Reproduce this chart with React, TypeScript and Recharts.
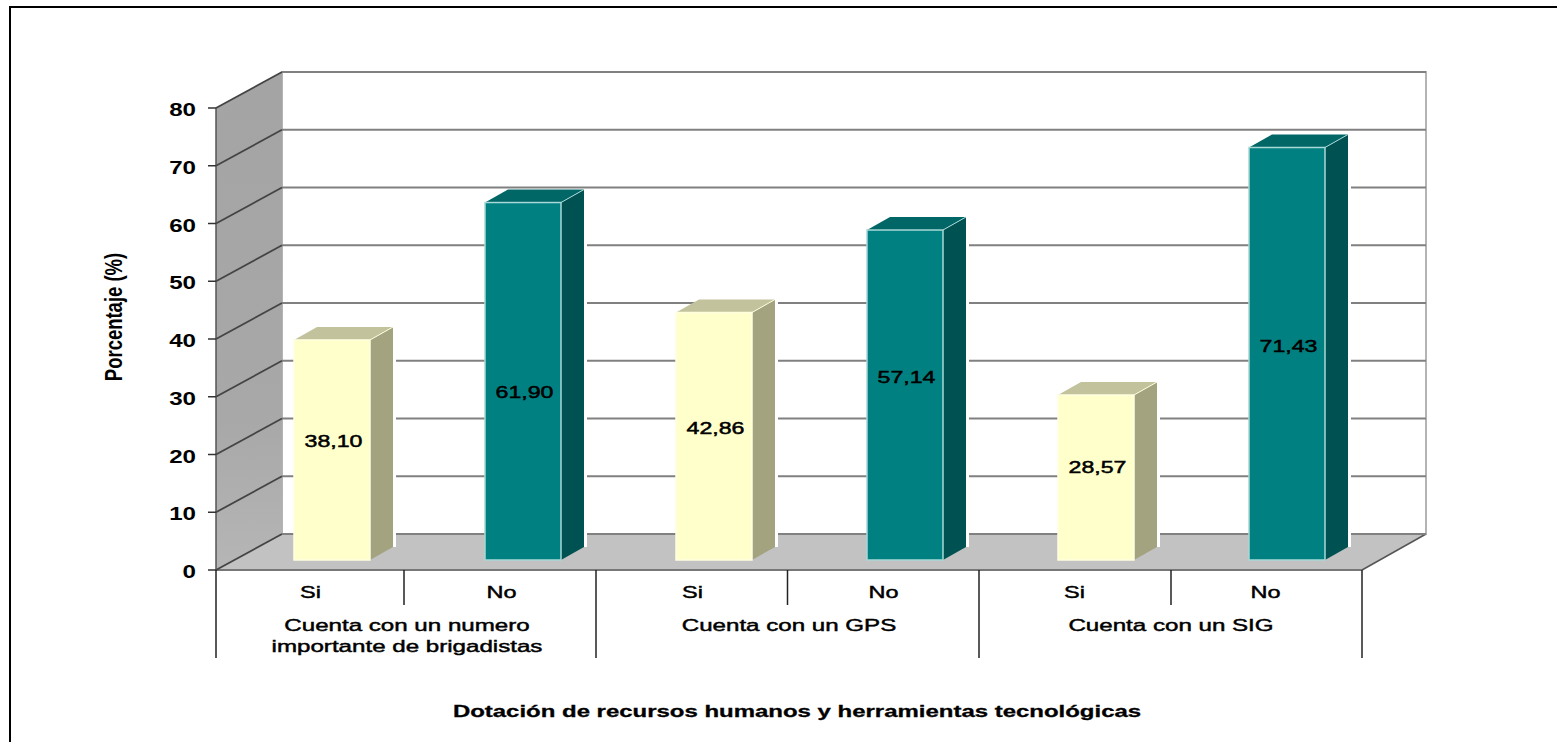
import { BarChart, Bar, XAxis, YAxis, CartesianGrid, Cell, LabelList, usePlotArea } from 'recharts';

const answers = ['Si', 'No', 'Si', 'No', 'Si', 'No'];
const groups = ['Cuenta con un numero|importante de brigadistas', '', 'Cuenta con un GPS', '', 'Cuenta con un SIG', ''];
const porcentaje = [38.1, 61.9, 42.86, 57.14, 28.57, 71.43];
const yTicks = [0, 10, 20, 30, 40, 50, 60, 70, 80];

const chartData = answers.map((answer, i) => ({ id: i, answer, group: groups[i], porcentaje: porcentaje[i] }));

// depth of the fake 3D box behind the plot and of each bar
const WALL_DX = 66;
const WALL_DY = -36;
const BAR_DX = 23;
const BAR_DY = -13;
const BAR_SHIFT_X = 20;
const BAR_SHIFT_Y = -10;
const BAND = 191;
const FONT = '"Liberation Sans", Arial, sans-serif';

// labels in the picture are not centred the same way on every bar
const LABEL_DY = [-9, 11, -8, -18, -11, -8];
// separators in the picture sit slightly left of the even band edges
const SEPARATOR_DX = [0, -3, -2, -1.5, -1, 0];

const SI_COLORS = { front: '#FFFFCC', top: '#C2C29C', side: '#A3A380', edge: '#FFFFE0' };
const NO_COLORS = { front: '#008080', top: '#006666', side: '#005252', edge: '#A8D8D8' };

const Stretched = ({ x, y, sx = 1.3, size = 16, weight = 700, stroke = 0, anchor = 'middle', rotate = 0, children }: any) => (
  <g transform={`translate(${x},${y}) rotate(${rotate}) scale(${sx},1)`}>
    <text
      textAnchor={anchor}
      fontFamily={FONT}
      fontSize={size}
      fontWeight={weight}
      fill="#000"
      stroke={stroke ? '#000' : 'none'}
      strokeWidth={stroke}
    >
      {children}
    </text>
  </g>
);

const Walls = () => {
  const plot = usePlotArea();
  if (!plot) return null;
  const left = plot.x;
  const right = plot.x + plot.width;
  const top = plot.y;
  const bottom = plot.y + plot.height;
  return (
    <g>
      <defs>
        <linearGradient id="sideWall" x1="0" y1="0" x2="0" y2="1">
          <stop offset="0" stopColor="#A4A4A4" />
          <stop offset="0.7" stopColor="#A8A8A8" />
          <stop offset="1" stopColor="#B6B6B6" />
        </linearGradient>
      </defs>
      <polygon
        points={`${left + WALL_DX},${top + WALL_DY} ${right + WALL_DX - 2},${top + WALL_DY} ${right + WALL_DX - 2},${bottom + WALL_DY} ${left + WALL_DX},${bottom + WALL_DY}`}
        fill="#fff"
        stroke="#B4B4B4"
        strokeWidth={2}
      />
      <polygon
        points={`${left},${top} ${left + WALL_DX},${top + WALL_DY} ${left + WALL_DX},${bottom + WALL_DY} ${left},${bottom}`}
        fill="url(#sideWall)"
      />
      <polygon
        points={`${left},${bottom} ${right},${bottom} ${right + WALL_DX - 2},${bottom + WALL_DY} ${left + WALL_DX},${bottom + WALL_DY}`}
        fill="#C2C2C2"
      />
      <line x1={right} y1={bottom} x2={right + WALL_DX - 2} y2={bottom + WALL_DY} stroke="#555" strokeWidth={1.5} />
      <line x1={left} y1={top} x2={left} y2={bottom} stroke="#555" strokeWidth={1.5} />
      <line x1={left} y1={bottom} x2={right} y2={bottom} stroke="#777" strokeWidth={2} />
    </g>
  );
};

const GridLine = ({ x1, x2, y1 }: any) => (
  <g>
    <line x1={x1} y1={y1} x2={x1 + WALL_DX} y2={y1 + WALL_DY} stroke="#444" strokeWidth={1.8} />
    <line x1={x1 + WALL_DX} y1={y1 + WALL_DY} x2={x2 + WALL_DX - 2} y2={y1 + WALL_DY} stroke="#808080" strokeWidth={2.2} />
  </g>
);

const Box3D = ({ x, y, width, height, index }: any) => {
  const c = index % 2 === 0 ? SI_COLORS : NO_COLORS;
  const l = x + BAR_SHIFT_X;
  const r = l + width;
  const t = y + BAR_SHIFT_Y;
  const b = t + height;
  return (
    <g>
      <line x1={r + BAR_DX + 1.5} y1={t + BAR_DY} x2={r + BAR_DX + 1.5} y2={b + BAR_DY} stroke="#fff" strokeWidth={3} />
      <polygon points={`${l},${t} ${l + BAR_DX},${t + BAR_DY} ${r + BAR_DX},${t + BAR_DY} ${r},${t}`} fill={c.top} />
      <polygon points={`${r},${t} ${r + BAR_DX},${t + BAR_DY} ${r + BAR_DX},${b + BAR_DY} ${r},${b}`} fill={c.side} />
      <rect x={l} y={t} width={width} height={height} fill={c.front} stroke={c.edge} strokeWidth={1.5} />
      <line x1={r} y1={t} x2={r + BAR_DX} y2={t + BAR_DY} stroke={c.edge} strokeWidth={1} />
    </g>
  );
};

const BarValue = ({ x, y, width, height, value, index }: any) => (
  <Stretched x={x + BAR_SHIFT_X + width / 2 + 1.5} y={y + BAR_SHIFT_Y + height / 2 + LABEL_DY[index] + 6} size={17} sx={1.36} weight={400} stroke={0.5}>
    {Number(value).toFixed(2).replace('.', ',')}
  </Stretched>
);

const YTick = ({ x, y, payload }: any) => (
  <Stretched x={x} y={y + 8} size={18} sx={1.34} anchor="end">
    {payload.value}
  </Stretched>
);

const AnswerTick = ({ x, y, payload, index }: any) => {
  const sep = x - BAND / 2 + SEPARATOR_DX[index];
  return (
    <g>
      <line x1={sep} y1={y} x2={sep} y2={y + 35} stroke="#222" strokeWidth={1.5} />
      <Stretched x={x - 1} y={y + 28} size={17} sx={1.38} weight={400} stroke={0.45}>
        {payload.value}
      </Stretched>
      {index === answers.length - 1 && (
        <line x1={x + BAND / 2} y1={y} x2={x + BAND / 2} y2={y + 35} stroke="#222" strokeWidth={1.5} />
      )}
    </g>
  );
};

const GroupTick = ({ x, y, payload, index }: any) => {
  if (index % 2 === 1) return null;
  const lines = String(payload.value).split('|');
  const cx = x + BAND / 2;
  const sep = x - BAND / 2 + SEPARATOR_DX[index];
  return (
    <g>
      <line x1={sep} y1={y} x2={sep} y2={y + 53} stroke="#222" strokeWidth={1.5} />
      {lines.map((line, i) => (
        <Stretched key={i} x={cx} y={y + 26 + i * 21} size={17} sx={1.42} weight={400} stroke={0.45}>
          {line}
        </Stretched>
      ))}
      {index === answers.length - 2 && (
        <line x1={x + BAND * 1.5} y1={y} x2={x + BAND * 1.5} y2={y + 53} stroke="#222" strokeWidth={1.5} />
      )}
    </g>
  );
};

export default function App() {
  return (
    <div style={{ position: 'absolute', left: 0, top: 0, width: 1557, height: 742, background: '#fff', overflow: 'hidden' }}>
      <div style={{ position: 'absolute', left: 9, top: 6, right: 0, bottom: 0, borderTop: '2px solid #000', borderLeft: '2px solid #000' }} />
      <BarChart
        width={1557}
        height={742}
        data={chartData}
        margin={{ top: 108, right: 195, left: 156, bottom: 84 }}
        barSize={76}
        style={{ position: 'absolute', left: 0, top: 0 }}
      >
        <Walls />
        <CartesianGrid
          zIndex={100}
          vertical={false}
          horizontal={(props: any) => <GridLine key={props.key ?? props.index} {...props} />}
        />
        <XAxis
          xAxisId="answer"
          dataKey="id"
          height={35}
          interval={0}
          axisLine={false}
          tickLine={false}
          tickSize={0}
          tickMargin={0}
          tick={(props: any) => <AnswerTick {...props} payload={{ value: answers[props.payload.value] }} />}
        />
        <XAxis
          xAxisId="group"
          dataKey="id"
          height={53}
          interval={0}
          axisLine={false}
          tickLine={false}
          tickSize={0}
          tickMargin={0}
          tick={(props: any) => <GroupTick {...props} payload={{ value: groups[props.payload.value] }} />}
        />
        <YAxis
          width={60}
          domain={[0, 80]}
          ticks={yTicks}
          interval={0}
          axisLine={false}
          tickLine={{ stroke: '#333', strokeWidth: 1.5 }}
          tickSize={8}
          tickMargin={12}
          tick={YTick}
        />
        <Bar dataKey="porcentaje" xAxisId="answer" isAnimationActive={false} shape={Box3D}>
          {chartData.map((d) => (
            <Cell key={d.id} fill={d.id % 2 === 0 ? SI_COLORS.front : NO_COLORS.front} />
          ))}
          <LabelList dataKey="porcentaje" content={BarValue} />
        </Bar>
        <Stretched x={122} y={317} rotate={-90} size={24} sx={0.77}>
          Porcentaje (%)
        </Stretched>
        <Stretched x={797} y={717} size={17} sx={1.41} stroke={0.3}>
          Dotación de recursos humanos y herramientas tecnológicas
        </Stretched>
      </BarChart>
    </div>
  );
}
